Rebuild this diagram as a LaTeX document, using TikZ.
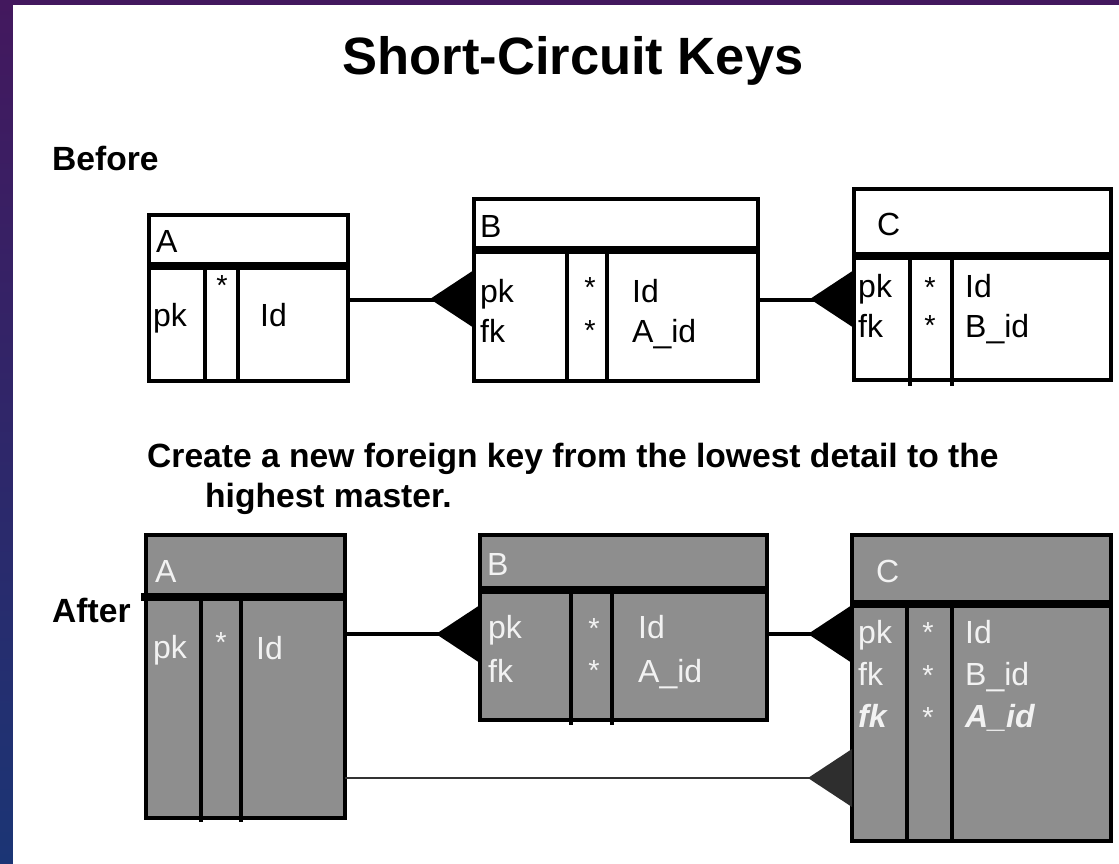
\documentclass[tikz,border=0pt]{standalone}
\usepackage{fontspec}
\setmainfont{Liberation Sans}
\usetikzlibrary{calc}

\definecolor{bgtop}{HTML}{43185E}
\definecolor{bgbot}{HTML}{1B3575}
\definecolor{shade}{HTML}{8E8E8E}
\definecolor{ink}{HTML}{F2F2F2}

\tikzset{
  tbl/.style={draw=black, line width=4pt, anchor=north west, inner sep=0pt, outer sep=0pt},
  plain/.style={tbl, fill=white},
  grey/.style={tbl, fill=shade},
  bar/.style={line width=8pt},
  coldiv/.style={line width=4pt},
  cell/.style={anchor=base west, inner sep=0pt, font=\fontsize{32}{36}\selectfont},
  cellw/.style={cell, text=ink},
  keybold/.style={font=\fontsize{32}{36}\selectfont\bfseries\itshape},
  star/.style={anchor=base, inner sep=0pt, font=\fontsize{29}{32}\selectfont},
  starw/.style={star, text=ink},
  label/.style={anchor=base west, inner sep=0pt, font=\fontsize{33.6}{40}\selectfont\bfseries},
  link/.style={line width=4pt},
  thinlink/.style={line width=2.5pt, draw=black!80},
}

% solid triangle whose base sits on point #1 and whose tip points left
\newcommand\ftri[2]{\fill[#2] ($(#1)+(0,-29)$) -- ($(#1)+(0,29)$) -- ($(#1)+(-44,0)$) -- cycle;}

\begin{document}
\begin{tikzpicture}[x=1pt,y=-1pt]
\useasboundingbox (0,0) rectangle (1119,864);
\fill[top color=bgtop, bottom color=bgbot] (0,0) rectangle (1119,864);
\fill[white] (13,5) rectangle (1119,864);

\node[anchor=base, inner sep=0pt, font=\fontsize{52.5}{60}\selectfont\bfseries] (title) at (573,75) {Short-Circuit Keys};

\node[label] (before) at (52,170) {Before};
\node[label] (note1) at (147,467) {Create a new foreign key from the lowest detail to the};
\node[label] (note2) at (205,507) {highest master.};
\node[label] (after) at (52,622) {After};

% ---------- before ----------
\node[plain, minimum width=199pt, minimum height=166pt] (A1) at (149,215) {};
\draw[bar] (A1.west |- 0,266) -- (A1.east |- 0,266);
\draw[coldiv] (205,266) -- (A1.south -| 205,0);
\draw[coldiv] (238,266) -- (A1.south -| 238,0);
\node[cell] (A1t) at (156,252) {A};
\node[cell] (A1k) at (153,326) {pk};
\node[star] (A1s) at (222,295) {*};
\node[cell] (A1c) at (260,326) {Id};

\node[plain, minimum width=284pt, minimum height=182pt] (B1) at (474,199) {};
\draw[bar] (B1.west |- 0,250) -- (B1.east |- 0,250);
\draw[coldiv] (567,250) -- (B1.south -| 567,0);
\draw[coldiv] (607,250) -- (B1.south -| 607,0);
\node[cell] (B1t) at (480,237) {B};
\node[cell] (B1k1) at (480,302) {pk};
\node[cell] (B1k2) at (480,342) {fk};
\node[star] (B1s1) at (590,297) {*};
\node[star] (B1s2) at (590,340) {*};
\node[cell] (B1c1) at (632,302) {Id};
\node[cell] (B1c2) at (632,342) {A\_id};

\node[plain, minimum width=257pt, minimum height=191pt] (C1) at (854,189) {};
\draw[bar] (C1.west |- 0,256) -- (C1.east |- 0,256);
\draw[coldiv] (910,256) -- (910,386);
\draw[coldiv] (952,256) -- (952,386);
\node[cell] (C1t) at (877,235) {C};
\node[cell] (C1k1) at (858,297) {pk};
\node[cell] (C1k2) at (858,337) {fk};
\node[star] (C1s1) at (930,297) {*};
\node[star] (C1s2) at (930,335) {*};
\node[cell] (C1c1) at (965,297) {Id};
\node[cell] (C1c2) at (965,337) {B\_id};

\draw[link] (A1.east |- 0,300) -- (B1.west |- 0,300);
\ftri{B1.west |- 0,299}{black}
\draw[link] (B1.east |- 0,300) -- (C1.west |- 0,300);
\ftri{C1.west |- 0,299}{black}

% ---------- after ----------
\node[grey, minimum width=199pt, minimum height=283pt] (A2) at (146,535) {};
\draw[bar] (141,597) -- (A2.east |- 0,597);
\draw[coldiv] (201,597) -- (201,822);
\draw[coldiv] (241,597) -- (241,822);
\node[cellw] (A2t) at (155,582) {A};
\node[cellw] (A2k) at (153,658) {pk};
\node[starw] (A2s) at (221,652) {*};
\node[cellw] (A2c) at (256,659) {Id};

\node[grey, minimum width=287pt, minimum height=185pt] (B2) at (480,535) {};
\draw[bar] (B2.west |- 0,590) -- (B2.east |- 0,590);
\draw[coldiv] (571,590) -- (571,725);
\draw[coldiv] (612,590) -- (612,725);
\node[cellw] (B2t) at (487,575) {B};
\node[cellw] (B2k1) at (488,638) {pk};
\node[cellw] (B2k2) at (488,682) {fk};
\node[starw] (B2s1) at (594,638) {*};
\node[starw] (B2s2) at (594,680) {*};
\node[cellw] (B2c1) at (638,638) {Id};
\node[cellw] (B2c2) at (638,682) {A\_id};

\node[grey, minimum width=259pt, minimum height=306pt] (C2) at (852,535) {};
\draw[bar] (C2.west |- 0,604) -- (C2.east |- 0,604);
\draw[coldiv] (907,604) -- (C2.south -| 907,0);
\draw[coldiv] (952,604) -- (C2.south -| 952,0);
\node[cellw] (C2t) at (876,582) {C};
\node[cellw] (C2k1) at (858,643) {pk};
\node[cellw] (C2k2) at (858,685) {fk};
\node[cellw, keybold] (C2k3) at (858,727) {fk};
\node[starw] (C2s1) at (928,642) {*};
\node[starw] (C2s2) at (928,685) {*};
\node[starw] (C2s3) at (928,727) {*};
\node[cellw] (C2c1) at (965,643) {Id};
\node[cellw] (C2c2) at (965,685) {B\_id};
\node[cellw, keybold] (C2c3) at (965,727) {A\_id};

\draw[link] (A2.east |- 0,634) -- (B2.west |- 0,634);
\ftri{B2.west |- 0,634}{black}
\draw[link] (B2.east |- 0,634) -- (C2.west |- 0,634);
\ftri{C2.west |- 0,634}{black}
\draw[thinlink] (A2.east |- 0,778) -- (C2.west |- 0,778);
\ftri{C2.west |- 0,778}{black!82}
\end{tikzpicture}
\end{document}
